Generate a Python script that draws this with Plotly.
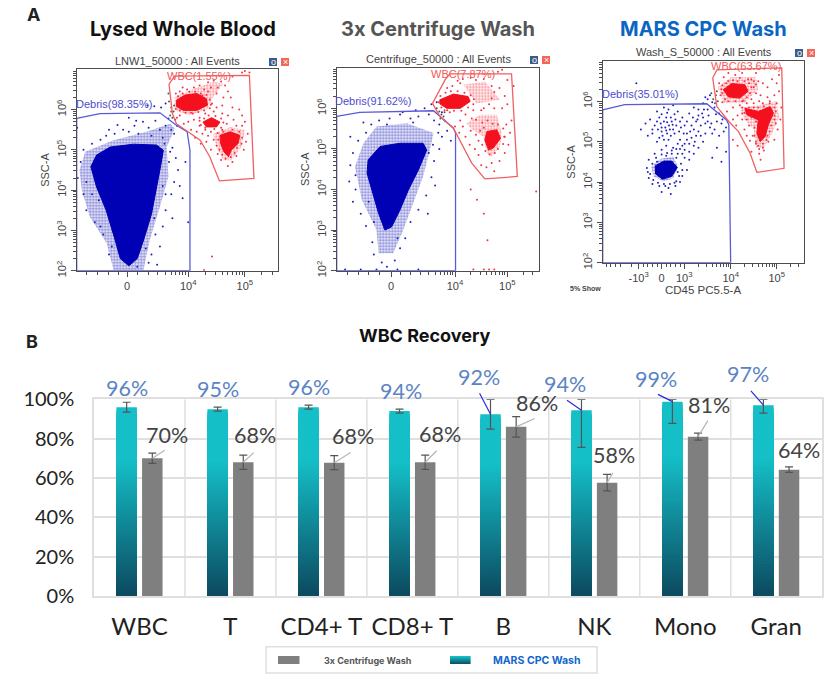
import plotly.graph_objects as go

W, H = 830, 683

# ---------- panel B data ----------
CATEGORIES = ["WBC", "T", "CD4+ T", "CD8+ T", "B", "NK", "Mono", "Gran"]
MARS = [96, 95, 96, 94, 92.4, 94.4, 98.8, 97]
MARS_PLUS = [2.5, 1, 1, 1, 7.6, 5.6, 1.2, 3]
MARS_MINUS = [2.5, 1, 1, 1, 7.6, 18.8, 11, 4]
MARS_LABELS = ["96%", "95%", "96%", "94%", "92%", "94%", "99%", "97%"]
CENTRI = [70, 68, 67.8, 68, 86, 57.6, 81, 64.2]
CENTRI_ERR = [2.6, 3.6, 3.6, 3.6, 5.2, 4.2, 1.8, 1.4]
CENTRI_LABELS = ["70%", "68%", "68%", "68%", "86%", "58%", "81%", "64%"]

# ---------- panel A data: decade units on x, log10 on y ----------
P1_BLUE_CORE = [(2.28,4.58),(2.38,4.87),(2.62,5.07),(3.03,5.14),(3.44,5.12),(3.56,4.99),(3.51,4.58),(3.43,4.0),(3.35,3.4),(3.22,2.8),(3.1,2.3),(2.95,2.12),(2.8,2.3),(2.7,2.8),(2.55,3.5),(2.38,4.08)]
P1_BLUE_HALO = [(2.08,4.5),(2.18,4.95),(2.68,5.24),(3.26,5.45),(3.68,5.65),(3.76,5.53),(3.62,5.07),(3.65,4.33),(3.5,3.59),(3.32,2.76),(3.21,2.02),(2.68,2.02),(2.56,2.68),(2.26,3.34),(2.12,4.0)]
P1_RED_CORES = [
    [(3.79,6.23),(3.94,6.36),(4.15,6.4),(4.32,6.27),(4.34,6.11),(4.15,5.98),(3.91,5.98),(3.79,6.08)],
    [(4.26,5.69),(4.41,5.8),(4.56,5.69),(4.5,5.57),(4.32,5.57)],
    [(4.56,5.36),(4.74,5.45),(4.91,5.36),(4.88,5.16),(4.76,4.99),(4.71,4.83),(4.63,4.95),(4.57,5.16)],
]
P1_RED_HALOS = [
    [(3.76,6.31),(4.03,6.48),(4.44,6.69),(4.62,6.64),(4.44,6.31),(4.35,6.02),(4.03,5.86),(3.76,5.98)],
    [(4.44,5.4),(4.74,5.57),(5.0,5.49),(4.94,5.07),(4.76,4.74),(4.62,4.74),(4.5,5.07)],
]
P1_BLUE_PTS = [(2.55,5.35),(2.7,5.4),(2.85,5.5),(2.95,5.45),(3.05,5.6),(3.12,5.4),(3.2,5.7),(3.3,5.55),(3.35,5.35),(3.42,5.72),(3.5,5.5),(3.55,5.3),(3.6,5.6),(3.65,5.78),(3.7,5.5),(3.75,5.4),(3.8,5.6),(3.58,5.15),(3.72,5.05),(3.78,4.8),(3.82,4.5),(3.75,4.2),(3.85,4.1),(3.7,3.9),(3.6,3.5),(3.72,3.3),(3.55,3.1),(3.42,2.9),(3.5,2.6),(3.35,2.4),(3.3,2.2),(3.45,2.15),(3.1,2.1),(2.6,2.4),(2.5,2.9),(2.35,3.2),(2.2,3.5),(2.15,3.9),(2.05,4.3),(2.1,4.7),(2.15,5.0),(2.3,5.15),(2.45,5.25),(2.95,5.8),(3.08,5.72),(2.6,5.5),(2.75,5.62),(3.9,3.8),(3.95,4.7),(4.0,3.2),(2.42,3.75),(2.3,3.9),(2.2,4.2),(3.55,4.1),(3.6,3.9),(3.4,3.3),(3.25,2.55),(2.65,2.6),(2.45,3.1),(3.66,4.7),(3.68,4.95),(2.04,5.55),(3.52,6.05),(3.6,6.15),(3.4,6.08),(3.28,6.1)]
P1_GREY_PTS = [(3.66,6.2),(3.7,6.05),(3.74,5.95),(3.68,5.85),(3.72,5.8),(3.77,5.75),(3.65,6.4),(3.75,6.1),(3.7,5.95)]
P1_RED_PTS = [(3.85,6.45),(3.9,6.55),(3.98,6.5),(4.1,6.55),(4.2,6.6),(4.28,6.5),(4.35,6.68),(4.45,6.72),(4.52,6.55),(4.58,6.7),(4.65,6.6),(4.7,6.45),(4.75,6.3),(4.62,6.3),(4.5,6.4),(4.42,6.15),(4.5,6.05),(4.6,6.1),(4.78,6.05),(4.9,6.0),(4.95,5.85),(5.0,5.7),(4.8,5.75),(4.7,5.85),(4.6,5.9),(4.45,5.95),(4.3,5.9),(4.2,5.8),(4.1,5.75),(4.0,5.7),(3.92,5.65),(4.05,5.5),(4.15,5.45),(4.25,5.4),(4.35,5.35),(4.45,5.25),(4.5,5.1),(4.4,5.0),(4.52,4.9),(4.58,4.75),(4.7,4.6),(4.78,4.7),(4.85,4.85),(4.98,5.0),(5.02,5.2),(5.05,5.4),(4.95,5.6),(4.85,5.6),(4.68,5.65),(4.6,5.5),(4.4,5.45),(4.3,5.55),(4.2,5.6),(4.08,5.9),(3.85,5.85),(3.8,5.8),(3.78,6.4),(4.25,6.35),(4.35,6.45),(4.4,6.55),(4.78,6.82),(4.95,6.92),(5.0,6.96),(5.08,6.92),(4.42,2.35),(4.28,2.02),(4.12,5.3),(4.22,5.15),(4.32,5.2),
               (3.82,6.33),(3.9,6.4),(4.02,6.44),(4.12,6.44),(4.22,6.4),(4.32,6.36),(4.38,6.25),(4.4,6.12),(4.38,6.03),(4.28,5.98),(4.18,5.94),(4.05,5.92),(3.95,5.92),(3.85,5.98),(3.78,6.02),(4.2,5.72),(4.28,5.78),(4.36,5.85),(4.48,5.84),(4.58,5.78),(4.62,5.68),(4.58,5.55),(4.46,5.52),(4.3,5.5),(4.22,5.62),(4.52,5.42),(4.62,5.45),(4.78,5.5),(4.9,5.45),(4.95,5.3),(4.94,5.15),(4.86,5.05),(4.82,4.92),(4.75,4.82),(4.66,4.78),(4.6,4.88),(4.55,5.0),(4.53,5.25)]
P1_BLUE_GATE = [(2.03,5.78),(2.44,5.9),(3.5,5.92),(3.79,5.61),(3.98,5.45),(4.03,4.99),(4.03,2.0),(2.03,2.0),(2.03,5.78)]
P1_RED_GATE = [(3.66,6.63),(3.76,6.83),(5.08,6.85),(5.16,4.29),(4.55,4.23),(4.38,4.83),(4.21,5.24),(3.79,5.65),(3.72,5.9),(3.66,6.63)]

P2_BLUE_CORE = [(2.34,4.73),(2.57,5.06),(2.95,5.14),(3.39,5.14),(3.46,4.97),(3.3,4.48),(3.11,3.99),(2.95,3.5),(2.79,3.08),(2.66,3.0),(2.54,3.41),(2.43,3.91),(2.32,4.4)]
P2_BLUE_HALO = [(2.09,4.56),(2.25,5.14),(2.5,5.55),(3.08,5.63),(3.59,5.39),(3.52,4.97),(3.39,4.32),(3.2,3.66),(3.01,3.0),(2.82,2.43),(2.54,2.43),(2.5,3.0),(2.22,3.74)]
P2_RED_CORES = [
    [(3.71,6.21),(3.97,6.35),(4.25,6.29),(4.29,6.17),(4.1,6.0),(3.84,6.0),(3.71,6.11)],
    [(4.61,5.43),(4.8,5.47),(4.87,5.26),(4.73,5.02),(4.64,4.97),(4.57,5.22)],
]
P2_RED_HALOS = [
    [(4.22,5.63),(4.48,5.84),(4.8,5.84),(4.89,5.39),(4.86,5.06),(4.7,4.81),(4.61,4.89),(4.54,5.3),(4.29,5.51)],
    [(4.16,6.58),(4.57,6.66),(4.86,6.21),(4.41,6.12)],
]
P2_BLUE_PTS = [(3.6,5.7),(3.5,5.85),(3.42,6.0),(3.55,6.1),(3.65,6.15),(3.3,5.8),(3.15,5.75),(2.95,5.85),(2.75,5.75),(2.55,5.7),(2.4,5.6),(2.3,5.4),(2.15,5.2),(2.05,4.9),(2.0,4.6),(1.98,4.2),(2.1,4.0),(2.05,3.7),(2.2,3.4),(2.3,3.1),(2.42,2.7),(2.45,2.4),(2.6,2.2),(2.7,2.1),(2.85,2.25),(2.95,2.55),(3.05,2.8),(3.15,3.2),(3.3,3.5),(3.45,3.85),(3.55,4.3),(3.6,4.7),(3.7,5.0),(3.75,5.3),(3.85,5.45),(3.92,5.2),(3.7,5.6),(3.8,5.7),(3.62,4.1),(3.48,3.4),(2.0,5.3),(2.25,5.65),(3.0,5.9),(3.25,5.95),(3.75,5.9),(2.7,5.6),(3.2,5.65),(2.35,3.7),(2.45,3.2),(2.9,2.8),(2.1,4.35),(3.5,4.9),(3.58,5.1),(3.68,5.4),(1.9,2.03),(2.2,2.03),(2.5,2.03),(2.9,2.03),(3.3,2.03)]
P2_GREY_PTS = [(3.65,6.0),(3.7,5.92),(3.74,5.85),(3.78,5.8),(3.72,5.75),(3.8,5.9)]
P2_RED_PTS = [(3.85,6.5),(3.95,6.55),(4.05,6.68),(4.15,6.72),(4.3,6.75),(4.4,6.7),(4.55,6.72),(4.7,6.55),(4.75,6.4),(4.85,6.5),(4.95,6.3),(5.0,6.1),(4.9,6.0),(4.75,6.0),(4.65,6.1),(4.5,5.95),(4.35,5.95),(4.2,5.85),(4.1,5.7),(4.0,5.55),(4.08,5.4),(4.2,5.3),(4.28,5.1),(4.38,5.0),(4.45,4.85),(4.5,4.6),(4.6,4.55),(4.7,4.65),(4.75,4.45),(4.85,4.7),(4.95,4.9),(5.02,5.1),(5.05,5.4),(5.08,5.7),(4.98,5.6),(4.95,5.3),(4.45,5.2),(4.4,5.35),(4.3,5.45),(4.15,5.55),(5.12,6.55),(5.0,6.7),(4.1,6.62),(3.8,5.95),(3.9,5.9),(4.7,6.25),(4.55,6.0),(4.35,2.03),(4.55,2.03),(4.65,2.03),(4.75,2.03),(4.42,3.75),(4.55,3.4),(4.62,2.75),(4.3,4.0),(4.82,6.9),(4.9,6.95),(5.55,3.95),
               (3.72,6.3),(3.82,6.38),(3.92,6.42),(4.05,6.42),(4.18,6.38),(4.3,6.32),(4.36,6.22),(4.35,6.1),(4.25,6.02),(4.12,5.94),(3.98,5.94),(3.85,5.95),(3.74,6.02),(3.68,6.15),(4.32,5.75),(4.4,5.72),(4.52,5.65),(4.62,5.7),(4.72,5.62),(4.82,5.6),(4.92,5.5),(4.94,5.3),(4.92,5.12),(4.82,5.0),(4.76,4.9),(4.66,4.86),(4.58,4.95),(4.52,5.1),(4.48,5.45),(4.55,5.52)]
P2_BLUE_GATE = [(1.74,5.8),(2.18,5.9),(3.59,5.94),(3.97,5.51),(4.01,5.39),(4.01,2.0),(1.74,2.0),(1.74,5.8)]
P2_RED_GATE = [(3.57,6.12),(3.81,6.7),(3.9,6.85),(5.08,6.85),(5.19,4.32),(4.57,4.26),(4.32,4.65),(3.97,5.51),(3.71,5.8),(3.57,6.12)]

P3_BLUE_CORE = [(2.36,4.4),(2.55,4.52),(2.72,4.52),(2.84,4.36),(2.72,4.14),(2.52,4.07),(2.37,4.2)]
P3_BLUE_HALOS = [
    [(2.28,4.38),(2.46,4.57),(2.75,4.63),(2.86,4.38),(2.75,4.09),(2.54,4.01),(2.32,4.14)],
]
P3_RED_CORES = [
    [(3.84,6.29),(4.02,6.44),(4.31,6.41),(4.38,6.25),(4.2,6.08),(3.95,6.11)],
    [(4.31,5.83),(4.6,5.75),(4.86,5.87),(4.93,5.71),(4.82,5.42),(4.75,5.13),(4.64,5.0),(4.57,5.21),(4.6,5.54),(4.35,5.67)],
]
P3_RED_HALOS = [
    [(3.72,6.35),(4.0,6.6),(4.55,6.6),(4.6,6.3),(4.3,5.95),(3.85,5.95)],
    [(4.2,5.85),(4.6,5.9),(5.0,6.0),(5.05,5.6),(4.9,5.2),(4.72,4.85),(4.55,4.85),(4.5,5.3),(4.3,5.55)],
]
P3_BLUE_PTS = [(2.05,5.3),(2.15,5.45),(2.2,5.15),(2.25,5.55),(2.4,5.75),(2.55,5.85),(2.65,5.8),(2.75,5.9),(2.85,5.75),(2.95,5.6),(3.0,5.4),(3.05,5.2),(3.1,5.7),(3.2,5.85),(3.3,5.8),(3.4,5.6),(3.5,5.5),(3.55,5.35),(3.65,5.3),(3.7,5.5),(3.8,5.45),(3.85,5.25),(3.9,5.35),(3.45,5.2),(3.4,5.0),(3.3,4.85),(3.2,4.7),(3.1,4.55),(3.05,4.3),(2.95,4.15),(2.9,4.0),(2.8,3.9),(2.65,3.85),(2.5,3.75),(2.45,3.9),(2.3,3.95),(2.22,4.1),(2.18,4.35),(2.22,4.55),(2.35,4.7),(2.5,4.8),(2.6,4.9),(2.75,4.85),(2.85,4.7),(3.0,4.8),(3.1,4.95),(2.4,5.0),(2.5,5.25),(2.3,5.3),(2.62,5.2),(2.75,5.3),(2.8,5.55),(2.55,5.5),(2.45,5.6),(2.7,5.6),(3.4,5.95),(3.5,6.05),(3.55,6.15),(3.45,6.1),(3.6,5.98),(3.65,5.85),(3.5,5.8),(3.75,5.7),(3.35,5.4),(3.2,5.3),(3.6,4.6),(3.8,4.5),(3.9,4.75),(3.7,4.85),(1.95,6.45),(3.25,5.5),(2.9,5.05),(3.0,4.95),(2.55,3.95),(2.7,3.7),
               (2.25,4.2),(2.3,4.45),(2.38,4.6),(2.5,4.68),(2.62,4.72),(2.72,4.7),(2.82,4.6),(2.92,4.45),(2.95,4.3),(2.88,4.15),(2.82,4.02),(2.68,3.95),(2.58,3.9),(2.42,3.98),(2.32,4.05),(2.6,4.65),(2.4,4.5),(2.85,4.25),(2.78,3.98),(2.2,4.25),(3.0,4.6),(3.1,4.75),(3.2,4.9),(3.15,5.1),(3.25,5.15),(3.3,5.25),(3.12,5.25),(3.05,5.05),(2.95,4.9),(2.85,4.95),
               (2.3,5.2),(2.35,5.4),(2.42,5.3),(2.48,5.45),(2.52,5.15),(2.58,5.35),(2.6,5.6),(2.66,5.4),(2.7,5.15),(2.72,5.5),(2.78,5.2),(2.82,5.4),(2.88,5.25),(2.92,5.35),(2.45,5.1),(2.55,5.05),(2.65,5.05),(2.4,5.5),(2.5,5.68),(2.62,5.72),(2.78,5.68),(2.9,5.5),(2.98,5.2),(2.6,5.28),(2.68,5.3),(2.74,5.42),(2.62,5.48),(2.5,5.35),
               (3.15,5.4),(3.28,5.55),(3.38,5.7),(3.45,5.45),(3.42,5.8),(3.52,5.65),(3.35,5.15),(3.22,5.0),(3.05,5.5),(3.18,5.6),(3.6,5.2),(3.75,5.15),(3.58,5.45),(3.68,5.68),(3.82,5.55),(3.3,5.65),(2.9,4.82),(2.95,4.7),(2.82,4.82),(2.72,4.78)]
P3_GREY_PTS = [(3.62,6.05),(3.68,6.15),(3.72,6.0),(3.66,5.95),(3.58,6.2),(3.7,6.25)]
P3_RED_PTS = [(3.75,6.45),(3.85,6.6),(3.95,6.7),(4.1,6.65),(4.25,6.7),(4.45,6.55),(4.55,6.7),(4.6,6.5),(4.7,6.45),(4.8,6.35),(4.9,6.55),(5.0,6.45),(5.05,6.25),(4.95,6.15),(4.8,6.1),(4.65,6.15),(4.55,6.2),(4.45,6.05),(4.35,5.95),(4.2,5.9),(4.05,5.85),(3.92,5.75),(4.05,5.55),(4.12,5.4),(4.3,5.3),(4.4,5.4),(4.48,5.15),(4.55,4.95),(4.62,4.7),(4.72,4.78),(4.82,5.0),(4.95,5.05),(5.02,5.3),(5.08,5.55),(5.1,5.85),(5.0,5.95),(4.85,6.0),(4.7,5.95),(4.5,5.95),(4.25,5.7),(4.15,5.65),(4.25,5.55),(4.45,4.75),(4.65,4.55),(5.05,6.65),(3.82,5.98),(3.78,6.15),(4.62,6.0),(4.95,5.65),(4.98,5.45),(4.35,5.15),(4.42,5.02),(4.15,4.9),(4.05,5.05),(4.25,6.0),(4.55,6.42),
              (3.8,6.3),(3.82,6.4),(3.9,6.45),(3.95,6.5),(4.05,6.52),(4.15,6.5),(4.3,6.5),(4.4,6.45),(4.45,6.35),(4.42,6.2),(4.35,6.1),(4.28,6.02),(4.1,6.0),(3.95,6.0),(3.88,6.05),(3.82,6.2),(4.5,6.35),(4.5,6.5),(4.38,6.55),(4.2,6.58),
              (4.25,5.85),(4.3,5.72),(4.4,5.85),(4.5,5.85),(4.6,5.85),(4.72,5.88),(4.85,5.95),(4.95,5.85),(4.98,5.75),(4.95,5.55),(4.88,5.4),(4.85,5.25),(4.8,5.15),(4.78,5.05),(4.7,4.95),(4.6,4.9),(4.55,5.0),(4.52,5.15),(4.52,5.35),(4.55,5.5),(4.45,5.6),(4.35,5.55),(4.7,4.85),(4.62,4.82)]
P3_BLUE_GATE = [(1.22,5.79),(1.7,5.92),(3.48,5.94),(3.91,5.54),(3.96,5.42),(4.0,2.0),(1.22,2.0),(1.22,5.79)]
P3_RED_GATE = [(3.61,6.58),(3.7,6.78),(5.11,6.83),(5.16,4.34),(4.57,4.24),(4.42,4.72),(4.17,5.25),(3.96,5.5),(3.7,5.87),(3.61,6.58)]

DENSE_BLUE, DENSE_RED = "#0000b4", "#f5101e"
GATE_BLUE, GATE_RED = "#5a5ad8", "#f06060"

PANELS = [
    dict(box=(76.7, 278.3, 69.3, 270.7), xr=(2.03, 5.59), title="LNW1_50000 : All Events", title_y=61,
         xticks=[2.92, 4, 5], xtext=["0", "10<sup>4</sup>", "10<sup>5</sup>"],
         xminor=[2.2,2.4,2.6,2.76,3.1,3.3,3.46,3.6,3.7,3.78,3.85,3.9,3.95,4.3,4.48,4.6,4.7,4.78,4.85,4.9,4.95,5.3,5.48],
         core=[P1_BLUE_CORE], halo=[P1_BLUE_HALO], rcore=P1_RED_CORES, rhalo=P1_RED_HALOS,
         blue=P1_BLUE_PTS, grey=P1_GREY_PTS, red=P1_RED_PTS, bgate=P1_BLUE_GATE, rgate=P1_RED_GATE,
         debris=("Debris(98.35%)", 2.68, 6.15), wbc=("WBC(1.55%)", 4.19, 6.83), solidity=0.6,
         icons=(273, 285)),
    dict(box=(336.7, 539.3, 67.7, 270.7), xr=(1.74, 5.61), title="Centrifuge_50000 : All Events", title_y=59,
         xticks=[2.78, 4, 5], xtext=["0", "10<sup>4</sup>", "10<sup>5</sup>"],
         xminor=[1.95,2.15,2.35,2.55,2.95,3.15,3.35,3.5,3.62,3.72,3.8,3.86,3.91,3.96,4.3,4.48,4.6,4.7,4.78,4.85,4.9,4.95,5.3,5.48],
         core=[P2_BLUE_CORE], halo=[P2_BLUE_HALO], rcore=P2_RED_CORES, rhalo=P2_RED_HALOS,
         blue=P2_BLUE_PTS, grey=P2_GREY_PTS, red=P2_RED_PTS, bgate=P2_BLUE_GATE, rgate=P2_RED_GATE,
         debris=("Debris(91.62%)", 2.44, 6.19), wbc=("WBC(7.87%)", 4.15, 6.85), solidity=0.55,
         icons=(534, 546)),
    dict(box=(602.7, 804.3, 61.0, 262.7), xr=(1.22, 5.60), title="Wash_S_50000 : All Events", title_y=52,
         xticks=[2.0, 2.5, 2.99, 4, 5], xtext=["-10<sup>3</sup>", "0", "10<sup>3</sup>", "10<sup>4</sup>", "10<sup>5</sup>"],
         xminor=[1.3,1.4,1.5,1.6,1.85,2.1,2.2,2.3,2.4,2.6,2.7,2.8,2.9,3.3,3.48,3.6,3.7,3.78,3.85,3.9,3.95,4.3,4.48,4.6,4.7,4.78,4.85,4.9,4.95,5.3,5.48],
         core=[P3_BLUE_CORE], halo=P3_BLUE_HALOS, rcore=P3_RED_CORES, rhalo=P3_RED_HALOS,
         blue=P3_BLUE_PTS, grey=P3_GREY_PTS, red=P3_RED_PTS, bgate=P3_BLUE_GATE, rgate=P3_RED_GATE,
         debris=("Debris(35.01%)", 2.03, 6.18), wbc=("WBC(63.67%)", 4.33, 6.87), solidity=0.5,
         icons=(799, 811)),
]


def fx(px):
    return px / W


def fy(py):
    return 1 - py / H


def xs(pts):
    return [p[0] for p in pts]


def ys(pts):
    return [10 ** p[1] for p in pts]


def closed(pts):
    return pts + [pts[0]]


def note(text, x, y, fam, size, col, xref="paper", yref="paper", **extra):
    return dict(text=text, x=x, y=y, xref=xref, yref=yref, showarrow=False, xanchor="center", yanchor="middle",
                font=dict(family=fam, size=size, color=col), **extra)


fig = go.Figure()
ann, shp = [], []
Y_TICKS = [100, 1000, 10000, 100000, 1000000]
Y_TEXT = ["10<sup>2</sup>", "10<sup>3</sup>", "10<sup>4</sup>", "10<sup>5</sup>", "10<sup>6</sup>"]
Y_MINOR = [m * 10 ** e for e in range(2, 7) for m in range(2, 10)]
FLOW = "Liberation Sans"
AX_GREY = "#4d4d4d"
layout = {}

for i, p in enumerate(PANELS, start=1):
    xa, ya = f"x{i}", f"y{i}"
    kw = dict(xaxis=xa, yaxis=ya, showlegend=False, hoverinfo="skip")
    for poly in p["halo"]:
        fig.add_trace(go.Scatter(x=xs(closed(poly)), y=ys(closed(poly)), mode="lines", fill="toself",
                                 fillcolor="rgba(0,0,0,0)",
                                 fillpattern=dict(shape=".", size=3, solidity=p["solidity"], fgcolor="#1414b8",
                                                  bgcolor="rgba(255,255,255,0)", fillmode="overlay"),
                                 line=dict(width=0), **kw))
    for poly in p["core"]:
        fig.add_trace(go.Scatter(x=xs(closed(poly)), y=ys(closed(poly)), mode="lines", fill="toself",
                                 fillcolor=DENSE_BLUE, line=dict(width=1, color=DENSE_BLUE), **kw))
    for poly in p["rhalo"]:
        fig.add_trace(go.Scatter(x=xs(closed(poly)), y=ys(closed(poly)), mode="lines", fill="toself",
                                 fillcolor="rgba(0,0,0,0)",
                                 fillpattern=dict(shape=".", size=3, solidity=0.45, fgcolor="#f52030",
                                                  bgcolor="rgba(255,255,255,0)", fillmode="overlay"),
                                 line=dict(width=0), **kw))
    for poly in p["rcore"]:
        fig.add_trace(go.Scatter(x=xs(closed(poly)), y=ys(closed(poly)), mode="lines", fill="toself",
                                 fillcolor=DENSE_RED, line=dict(width=1, color=DENSE_RED), **kw))
    fig.add_trace(go.Scatter(x=xs(p["blue"]), y=ys(p["blue"]), mode="markers",
                             marker=dict(size=2, color="#2020c0"), **kw))
    fig.add_trace(go.Scatter(x=xs(p["red"]), y=ys(p["red"]), mode="markers",
                             marker=dict(size=2, color="#f83040"), **kw))
    fig.add_trace(go.Scatter(x=xs(p["grey"]), y=ys(p["grey"]), mode="markers",
                             marker=dict(size=2, color="#555555"), **kw))
    fig.add_trace(go.Scatter(x=xs(p["bgate"]), y=ys(p["bgate"]), mode="lines",
                             line=dict(color=GATE_BLUE, width=1.3), **kw))
    fig.add_trace(go.Scatter(x=xs(p["rgate"]), y=ys(p["rgate"]), mode="lines",
                             line=dict(color=GATE_RED, width=1.3), **kw))

    x0, x1, y0, y1 = p["box"]
    layout[f"xaxis{i}"] = dict(
        domain=[fx(x0), fx(x1)], range=list(p["xr"]), anchor=ya, showgrid=False, zeroline=False, automargin=False,
        showline=True, mirror=True, linecolor=AX_GREY, linewidth=1,
        tickmode="array", tickvals=p["xticks"], ticktext=p["xtext"], ticks="outside", ticklen=5,
        tickcolor=AX_GREY, tickfont=dict(family=FLOW, size=11, color="#444"),
        minor=dict(tickmode="array", tickvals=p["xminor"], ticks="outside", ticklen=3, tickcolor=AX_GREY),
    )
    layout[f"yaxis{i}"] = dict(
        domain=[fy(y1), fy(y0)], type="log", range=[2, 7], anchor=xa, showgrid=False, zeroline=False, automargin=False,
        showline=True, mirror=True, linecolor=AX_GREY, linewidth=1,
        tickmode="array", tickvals=Y_TICKS, ticktext=Y_TEXT, tickangle=-90, ticks="outside", ticklen=5,
        tickcolor=AX_GREY, tickfont=dict(family=FLOW, size=11, color="#444"),
        title=dict(text="SSC-A", font=dict(family=FLOW, size=11, color="#444"), standoff=2),
        minor=dict(tickmode="array", tickvals=Y_MINOR, ticks="outside", ticklen=3, tickcolor=AX_GREY),
    )
    ann.append(note(p["title"], fx((x0 + x1) / 2), fy(p["title_y"]), FLOW, 11, "#444"))
    ann.append(note(p["debris"][0], p["debris"][1], p["debris"][2], FLOW, 11, "#4c4cd0", xa, ya))
    ann.append(note(p["wbc"][0], p["wbc"][1], p["wbc"][2], FLOW, 11, "#f05a5a", xa, ya))
    bx, rx = p["icons"]
    iy = p["title_y"] + 1
    for cx, col, glyph in ((bx, "#3d5a8a", "o"), (rx, "#f4665a", "×")):
        shp.append(dict(type="rect", xref="paper", yref="paper", x0=fx(cx - 4), x1=fx(cx + 4), y0=fy(iy + 4),
                        y1=fy(iy - 4), fillcolor=col, line=dict(width=0)))
        ann.append(note(glyph, fx(cx), fy(iy), FLOW, 9, "white"))

# ---------- panel B ----------
BW, OFF = 0.225, 0.141
idx = list(range(len(CATEGORIES)))
STOPS = 60
LOW, HIGH = (12, 72, 94), (20, 191, 200)
for k in range(STOPS, 0, -1):
    frac = k / STOPS
    t = min(frac / 0.73, 1)
    col = tuple(round(a + (b - a) * t) for a, b in zip(LOW, HIGH))
    fig.add_trace(go.Bar(x=[n - OFF for n in idx], y=[v * frac for v in MARS], width=BW,
                         marker=dict(color=f"rgb{col}", line=dict(width=0)), showlegend=False,
                         hoverinfo="skip", xaxis="x4", yaxis="y4"))
fig.add_trace(go.Bar(x=[n - OFF for n in idx], y=MARS, width=BW, name="MARS CPC Wash",
                     marker=dict(color="rgba(0,0,0,0)", line=dict(width=0)), showlegend=False,
                     error_y=dict(type="data", symmetric=False, array=MARS_PLUS, arrayminus=MARS_MINUS,
                                  color="#555555", thickness=1.2, width=4), xaxis="x4", yaxis="y4"))
fig.add_trace(go.Bar(x=[n + OFF for n in idx], y=CENTRI, width=BW, name="3x Centrifuge Wash",
                     marker=dict(color="#7f7f7f", line=dict(width=0)), showlegend=False,
                     error_y=dict(type="data", array=CENTRI_ERR, color="#555555", thickness=1.2, width=4),
                     xaxis="x4", yaxis="y4"))

GRID = "#dfdfdf"
for n in range(1, 8):
    shp.append(dict(type="line", xref="x4", yref="y4", x0=n - 0.5, x1=n - 0.5, y0=0, y1=100, layer="below",
                    line=dict(color=GRID, width=1.5)))
layout["xaxis4"] = dict(
    domain=[fx(94), fx(821.7)], range=[-0.5, 7.5], anchor="y4", tickmode="array", tickvals=idx, automargin=False,
    ticktext=CATEGORIES, tickfont=dict(family="Lato", size=24, color="#222"), showgrid=False, zeroline=False,
    showline=True, mirror=True, linecolor=GRID, linewidth=1.5, ticks="", ticklabelstandoff=8,
)
layout["yaxis4"] = dict(
    domain=[fy(596), fy(399.3)], range=[0, 100], anchor="x4", tickmode="array", tickvals=[0, 20, 40, 60, 80, 100],
    ticktext=["0%", "20%", "40%", "60%", "80%", "100%"], tickfont=dict(family="Lato", size=20, color="#222"),
    showgrid=True, gridcolor=GRID, gridwidth=1.5, zeroline=False, showline=True, mirror=True, linecolor=GRID,
    linewidth=1.5, ticks="", ticklabelstandoff=14, automargin=False,
)

# offsets from the top of each bar, in pixels: label centre, then leader end (None = no leader)
MARS_TEXT = [(0, -19), (0, -20), (0, -20), (1, -20), (-12, -37), (-16, -26), (-16, -23), (-15, -31)]
MARS_LEAD = [None, None, None, None, (-12, -23), (-16, -11), (-16, -8), (-14, -16)]
CENTRI_TEXT = [(14.5, -23.5), (12, -27), (18.5, -26.6), (15, -28), (21, -24), (7, -28), (11, -32), (10, -20)]
CENTRI_LEAD = [(14, -9), (12, -11), (18, -11), (13, -13), (20, -9), (7, -12), (11, -18), None]
LABEL_FONT = "Lato"
for n in idx:
    for x, y, text, offs, lead, tcol, lcol in (
        (n - OFF, MARS[n], MARS_LABELS[n], MARS_TEXT[n], MARS_LEAD[n], "#5b84c4", "#2a2ae0"),
        (n + OFF, CENTRI[n], CENTRI_LABELS[n], CENTRI_TEXT[n], CENTRI_LEAD[n], "#444", "#b5b5b5"),
    ):
        ann.append(note(text, x, y, LABEL_FONT, 21.5, tcol, "x4", "y4", xshift=offs[0], yshift=-offs[1]))
        if lead:
            ann.append(dict(x=x, y=y, xref="x4", yref="y4", text=" ", font=dict(size=1), showarrow=True, arrowhead=0,
                            arrowwidth=1.2, arrowcolor=lcol, ax=lead[0], ay=lead[1], axref="pixel", ayref="pixel"))

# headings and stray text
HEAD = "Inter"
for text, x, y, size, col, fam in [
    ("<b>A</b>", 33, 15, 18, "#222", HEAD),
    ("<b>B</b>", 32, 341, 18, "#222", HEAD),
    ("<b>Lysed Whole Blood</b>", 183, 29, 20, "#111", HEAD),
    ("<b>3x Centrifuge Wash</b>", 438, 29, 20, "#555", HEAD),
    ("<b>MARS CPC Wash</b>", 703, 29, 20, "#0a66c2", HEAD),
    ("<b>WBC Recovery</b>", 425, 335, 18, "#111", HEAD),
    ("<b>5% Show</b>", 585, 288, 7, "#444", FLOW),
    ("CD45 PC5.5-A", 703, 290, 11.5, "#444", FLOW),
]:
    ann.append(note(text, fx(x), fy(y), fam, size, col))

# legend drawn by hand because its swatch has a gradient
shp.append(dict(type="rect", xref="paper", yref="paper", x0=fx(266), x1=fx(597), y0=fy(673), y1=fy(646.7),
                line=dict(color=GRID, width=1.5), fillcolor="white"))
shp.append(dict(type="rect", xref="paper", yref="paper", x0=fx(278), x1=fx(299.5), y0=fy(664), y1=fy(656),
                line=dict(width=0), fillcolor="#7f7f7f"))
for s in range(8):
    t = 1 - s / 7 * 0.9
    col = tuple(round(a + (b - a) * t) for a, b in zip(LOW, HIGH))
    shp.append(dict(type="rect", xref="paper", yref="paper", x0=fx(450), x1=fx(470.6), y0=fy(657 + s),
                    y1=fy(656 + s), line=dict(width=0), fillcolor=f"rgb{col}"))
ann.append(note("<b>3x Centrifuge Wash</b>", fx(367.5), fy(660), "Inter", 9, "#555"))
ann.append(note("<b>MARS CPC Wash</b>", fx(536.5), fy(660), "Inter", 10.5, "#1166cc"))

fig.update_layout(
    width=W, height=H, margin=dict(l=0, r=0, t=0, b=0, autoexpand=False), paper_bgcolor="white", plot_bgcolor="white",
    barmode="overlay", showlegend=False, annotations=ann, shapes=shp, template="none", **layout,
)
fig.write_html("out.html", config=dict(displayModeBar=False),
               post_script="document.body.style.margin='0';document.body.style.overflow='hidden';")
